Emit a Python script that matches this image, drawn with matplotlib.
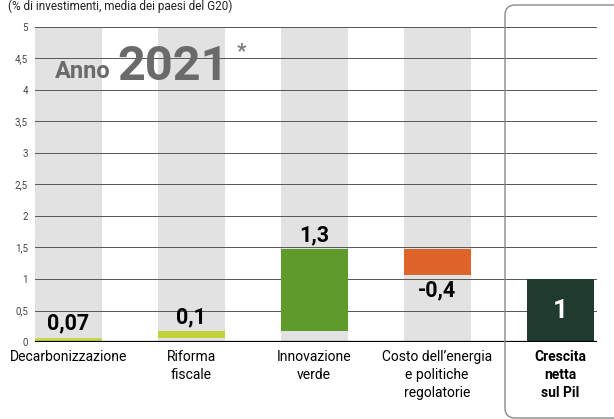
import numpy as np
import matplotlib.pyplot as plt
from matplotlib.patches import FancyBboxPatch

plt.rcParams["font.family"] = ["Roboto", "DejaVu Sans"]

# data
categories = ["Decarbonizzazione", "Riforma\nfiscale", "Innovazione\nverde",
              "Costo dell\u2019energia\ne politiche\nregolatorie", "Crescita\nnetta\nsul Pil"]
values = [0.07, 0.1, 1.3, -0.4, 1]
value_labels = ["0,07", "0,1", "1,3", "-0,4", "1"]
bar_colors = ["#c9d64a", "#c2d23a", "#5e9a2c", "#de6429", "#1f3a2f"]
yticks = [0, 0.5, 1, 1.5, 2, 2.5, 3, 3.5, 4, 4.5, 5]
ytick_labels = ["0", "0,5", "1", "1,5", "2", "2,5", "3", "3,5", "4", "4,5", "5"]

# waterfall bottoms: steps accumulate, last bar is the total from zero
steps = np.array(values[:-1])
ends = np.cumsum(steps)
starts = ends - steps
bottoms = list(np.minimum(starts, ends)) + [0]
heights = list(np.abs(steps)) + [values[-1]]

fig = plt.figure(figsize=(6.14, 4.19), dpi=100)
ax = fig.add_axes([35 / 614, 77 / 419, 562 / 614, 315 / 419])

x = np.arange(len(categories))
ax.set_xlim(-0.27, 4.30)
ax.set_ylim(0, 5)

# gray background columns
ax.bar(x[:-1], [5] * 4, width=0.545, color="#e2e2e2", zorder=0)

# grid
for t in yticks[1:]:
    ax.axhline(t, color="#555555", lw=0.7, zorder=1)

ax.bar(x, heights, bottom=bottoms, width=0.545, color=bar_colors, zorder=2)
ax.axhline(0, color="black", lw=1.6, zorder=3)

# value labels
for i in range(len(values)):
    if i == len(values) - 1:
        ax.text(x[i], values[i] / 2, value_labels[i], ha="center", va="center",
                color="white", fontsize=19, fontweight="bold", zorder=4)
    elif values[i] >= 0:
        ax.text(x[i], bottoms[i] + heights[i] + 0.05, value_labels[i], ha="center",
                va="bottom", fontsize=15.5, fontweight="bold", zorder=4)
    else:
        ax.text(x[i], bottoms[i] - 0.07, value_labels[i], ha="center",
                va="top", fontsize=15.5, fontweight="bold", zorder=4)

ax.set_yticks(yticks)
ax.set_yticklabels(ytick_labels, fontsize=7, color="#444444")
ax.set_xticks(x)
ax.set_xticklabels(categories, fontsize=10, linespacing=1.35)
for lbl in ax.get_xticklabels()[-1:]:
    lbl.set_fontweight("bold")
ax.tick_params(length=0, pad=5)
ax.tick_params(axis="x", pad=6)
for s in ax.spines.values():
    s.set_visible(False)

# "Anno 2021*"
fig.text(55 / 614, 1 - 72 / 419, "Anno", fontsize=17, fontweight="bold",
         color="#6a6a6a", va="center")
fig.text(117 / 614, 1 - 67 / 419, "2021", fontsize=35, fontweight="bold",
         color="#6a6a6a", va="center")
fig.text(237 / 614, 1 - 52 / 419, "*", fontsize=15, fontweight="bold",
         color="#7a7a7a", va="center")

# subtitle at the top
fig.text(8 / 614, 1.0, "(% di investimenti, media dei paesi del G20)", fontsize=8.5,
         va="top", color="#222222")

# rounded box around the total
box = FancyBboxPatch((5.05, 0.01), 1.3, 4.13,
                     boxstyle="round,pad=0,rounding_size=0.1",
                     transform=fig.dpi_scale_trans, facecolor="none",
                     edgecolor="#8a8a8a", lw=1.0, zorder=0)
fig.patches.append(box)

fig.savefig("out.png", dpi=100)
